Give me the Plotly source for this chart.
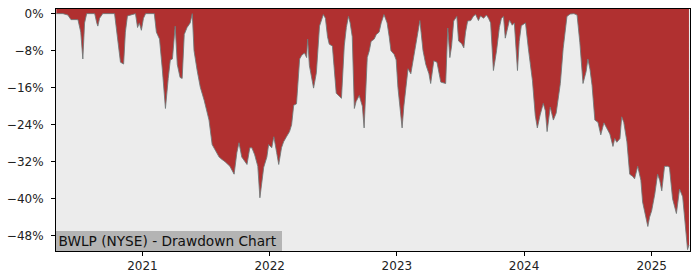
import plotly.graph_objects as go

dates = [
    "2020-04-29", "2020-05-18", "2020-06-01", "2020-06-10", "2020-06-30", "2020-07-08", "2020-07-14",
    "2020-07-19", "2020-07-25", "2020-08-17", "2020-08-23", "2020-08-26", "2020-08-31", "2020-09-09",
    "2020-10-13", "2020-10-22", "2020-10-30", "2020-11-08", "2020-11-13", "2020-11-19", "2020-12-12",
    "2020-12-18", "2020-12-23", "2020-12-29",
    "2021-01-04", "2021-01-10", "2021-02-04", "2021-02-10", "2021-02-19", "2021-02-27", "2021-03-08",
    "2021-03-16", "2021-03-22", "2021-03-28", "2021-04-05", "2021-04-11", "2021-04-19", "2021-04-25",
    "2021-05-01", "2021-05-09", "2021-05-18", "2021-05-24", "2021-05-29", "2021-06-07", "2021-06-16",
    "2021-06-27", "2021-07-11", "2021-07-20", "2021-08-03", "2021-08-09", "2021-08-17", "2021-08-26",
    "2021-09-09", "2021-09-21", "2021-09-29", "2021-10-05", "2021-10-13", "2021-10-28", "2021-11-05",
    "2021-11-11", "2021-11-19", "2021-11-28", "2021-12-04", "2021-12-09", "2021-12-15", "2021-12-24",
    "2021-12-29",
    "2022-01-07", "2022-01-13", "2022-01-21", "2022-01-27", "2022-02-04", "2022-02-10", "2022-02-19",
    "2022-02-27", "2022-03-05", "2022-03-11", "2022-03-19", "2022-03-28", "2022-04-03", "2022-04-11",
    "2022-04-17", "2022-04-20", "2022-04-25", "2022-05-01", "2022-05-07", "2022-05-15", "2022-05-21",
    "2022-05-24", "2022-06-04", "2022-06-10", "2022-06-16", "2022-06-21", "2022-06-30", "2022-07-06",
    "2022-07-11", "2022-07-26", "2022-07-31", "2022-08-03", "2022-08-09", "2022-08-15", "2022-08-20",
    "2022-08-26", "2022-09-01", "2022-09-06", "2022-09-15", "2022-09-24", "2022-09-29", "2022-10-08",
    "2022-10-14", "2022-10-19", "2022-10-28", "2022-11-03", "2022-11-11", "2022-11-17", "2022-11-25",
    "2022-12-04", "2022-12-10", "2022-12-15", "2022-12-24", "2022-12-30",
    "2023-01-04", "2023-01-10", "2023-01-16", "2023-01-21", "2023-01-27", "2023-02-02", "2023-02-10",
    "2023-02-19", "2023-02-28", "2023-03-08", "2023-03-17", "2023-03-25", "2023-04-03", "2023-04-08",
    "2023-04-17", "2023-04-26", "2023-05-07", "2023-05-21", "2023-05-27", "2023-06-02", "2023-06-07",
    "2023-06-13", "2023-06-22", "2023-06-27", "2023-07-06", "2023-07-12", "2023-07-17", "2023-07-23",
    "2023-08-01", "2023-08-09", "2023-08-15", "2023-08-23", "2023-08-29", "2023-09-07", "2023-09-15",
    "2023-09-21", "2023-09-27", "2023-10-05", "2023-10-14", "2023-10-22", "2023-10-28", "2023-11-03",
    "2023-11-08", "2023-11-14", "2023-11-20", "2023-11-28", "2023-12-04", "2023-12-13", "2023-12-18",
    "2023-12-24",
    "2024-01-05", "2024-01-13", "2024-01-25", "2024-02-02", "2024-02-08", "2024-02-16", "2024-02-25",
    "2024-03-02", "2024-03-07", "2024-03-16", "2024-03-25", "2024-04-02", "2024-04-14", "2024-04-22",
    "2024-04-28", "2024-05-03", "2024-05-12", "2024-05-23", "2024-06-01", "2024-06-09", "2024-06-18",
    "2024-06-27", "2024-07-02", "2024-07-08", "2024-07-14", "2024-07-22", "2024-07-31", "2024-08-08",
    "2024-08-17", "2024-08-26", "2024-09-03", "2024-09-12", "2024-09-17", "2024-09-23", "2024-10-02",
    "2024-10-07", "2024-10-13", "2024-10-22", "2024-10-30", "2024-11-08", "2024-11-13", "2024-11-22",
    "2024-12-01", "2024-12-06", "2024-12-15", "2024-12-21", "2024-12-26",
    "2025-01-01", "2025-01-10", "2025-01-18", "2025-01-24", "2025-01-30", "2025-02-07", "2025-02-16",
    "2025-02-21", "2025-03-02", "2025-03-13", "2025-03-22", "2025-03-31", "2025-04-05", "2025-04-11",
    "2025-04-14", "2025-04-18",
]

drawdown = [
    0.0, 0.0, -0.3, -1.3, -1.3, -4.0, -9.8,
    -2.0, 0.0, 0.0, -2.0, -2.7, -1.0, 0.0,
    0.0, -5.0, -10.5, -10.9, -4.0, -0.5, 0.0,
    -3.0, -2.0, -3.6,
    -1.0, 0.0, 0.0, -4.0, -5.5, -12.0, -20.5,
    -14.0, -10.0, -9.8, -2.7, -11.0, -13.8, -14.0,
    -4.5, -3.0, -2.0, 0.0, -8.0, -12.3, -15.9,
    -18.7, -23.0, -28.3, -30.4, -31.0, -31.5, -32.0,
    -33.0, -34.7, -30.0, -27.9, -31.0, -32.6, -29.0,
    -29.0, -30.5, -33.0, -39.8, -37.0, -33.2, -31.0,
    -28.3,
    -29.0, -26.6, -30.0, -32.6, -29.0, -27.7, -26.5,
    -25.5, -24.0, -19.8, -19.5, -9.8, -9.0, -8.5,
    -9.5, -5.5, -11.2, -14.0, -16.1, -12.8, -6.0,
    -2.7, -0.2, -1.0, -5.0, -6.6, -7.0, -12.0,
    -17.2, -18.3, -10.0, -7.0, -3.0, -0.6, -2.0,
    -5.0, -20.5, -19.0, -17.7, -20.0, -24.7, -9.5,
    -8.0, -6.0, -5.5, -4.5, -4.0, -2.0, -0.2,
    -2.0, -5.0, -8.0, -8.8, -10.0,
    -15.9, -20.0, -24.7, -20.0, -16.0, -11.9, -13.0,
    -8.7, -5.0, -1.5, -8.0, -11.0, -13.0, -15.1,
    -10.2, -10.5, -14.8, -15.1, -3.1, -9.5, -7.0,
    -1.6, -0.6, -5.9, -6.5, -7.4, -4.0, -1.6,
    -1.5, -0.5, -0.2, -1.5, -0.5, -1.0, -0.3,
    -1.0, -2.0, -12.3, -8.0, -3.0, -1.0, -0.6,
    -5.3, -3.0, -1.4, -2.5, -2.0, -12.3, -6.0,
    -2.6,
    -2.0, -7.4, -14.5, -22.0, -24.7, -21.9, -19.4,
    -21.0, -25.5, -20.2, -23.0, -21.5, -15.1, -7.6,
    -3.0, -0.6, -0.1, 0.0, -0.3, -6.3, -15.1,
    -12.5, -9.8, -12.0, -15.5, -23.0, -23.5, -26.2,
    -23.6, -25.0, -26.0, -28.7, -27.0, -27.8, -27.0,
    -22.3, -23.5, -27.7, -34.7, -35.2, -35.7, -33.0,
    -36.0, -40.7, -44.0, -46.0, -44.0,
    -42.6, -39.0, -34.7, -36.0, -38.3, -33.0, -33.0,
    -33.2, -40.0, -43.2, -37.9, -39.6, -44.0, -48.1,
    -51.0, -50.0,
]

y_ticks = [0, -8, -16, -24, -32, -40, -48]
y_tick_text = ["0%", "\u22128%", "\u221216%", "\u221224%", "\u221232%", "\u221240%", "\u221248%"]
x_ticks = ["2021-01-01", "2022-01-01", "2023-01-01", "2024-01-01", "2025-01-01"]
x_tick_text = ["2021", "2022", "2023", "2024", "2025"]
title_text = "BWLP (NYSE) - Drawdown Chart"

Y_TOP = 1.0
Y_BOTTOM = -51.3
X_START = "2020-04-28"
X_END = "2025-04-21"

RED = "#b03030"
BG = "#ececec"

fig = go.Figure()
fig.add_trace(go.Scatter(
    x=dates, y=[Y_TOP] * len(dates), mode="lines",
    line=dict(width=0, color=RED), hoverinfo="skip", showlegend=False,
))
fig.add_trace(go.Scatter(
    x=dates, y=drawdown, mode="lines", fill="tonexty", fillcolor=RED,
    line=dict(width=1, color="rgba(110,120,120,0.85)"), showlegend=False,
))

axis_common = dict(
    showgrid=False, zeroline=False, showline=True, linecolor="black", linewidth=1,
    mirror=True, ticks="outside", ticklen=4, tickwidth=1, tickcolor="black",
    tickfont=dict(family="DejaVu Sans", size=12, color="#222222"),
)

fig.update_layout(
    width=700, height=280,
    margin=dict(l=53, r=10, t=7, b=27),
    paper_bgcolor="white", plot_bgcolor=BG,
    xaxis=dict(range=[X_START, X_END], tickvals=x_ticks, ticktext=x_tick_text, **axis_common),
    yaxis=dict(range=[Y_BOTTOM, Y_TOP], tickvals=y_ticks, ticktext=y_tick_text,
               ticklabelstandoff=5, **axis_common),
    annotations=[dict(
        text=title_text, xref="paper", yref="paper", x=0, y=0,
        xanchor="left", yanchor="bottom", showarrow=False, align="left",
        font=dict(family="DejaVu Sans", size=13.7, color="#111111"),
        bgcolor="#b4b4b4", borderpad=2.5, borderwidth=0, width=221, height=14.5,
    )],
)

fig.write_html("out.html")
